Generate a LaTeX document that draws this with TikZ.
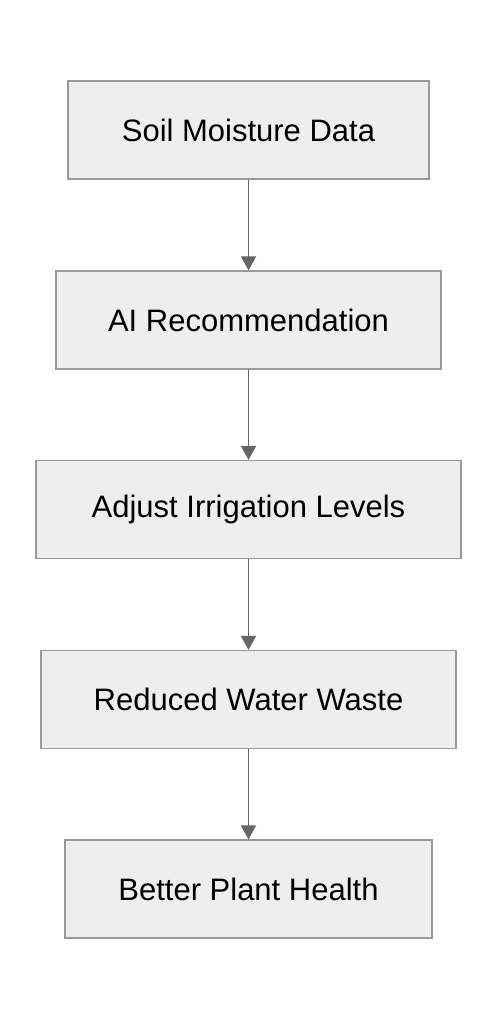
\documentclass[tikz,border=0pt]{standalone}
\usepackage{fontspec}
\setmainfont{Liberation Sans}
\usetikzlibrary{arrows.meta}
\definecolor{boxfill}{HTML}{EEEEEE}
\definecolor{boxline}{HTML}{999999}
\definecolor{arrowc}{HTML}{666666}
\begin{document}
\begin{tikzpicture}[x=1pt,y=-1pt,
  flowbox/.style={draw=boxline,fill=boxfill,line width=1.2pt,inner sep=0pt,minimum height=98pt,font=\fontsize{31}{37}\selectfont,text=black},
  flowarrow/.style={draw=arrowc,line width=1.8pt,-{Triangle[length=14pt,width=15pt]}}]
\useasboundingbox (0,0) rectangle (498,1020);
\node[flowbox,minimum width=361pt] (a) at (248.5,130) {Soil Moisture Data};
\node[flowbox,minimum width=385pt] (b) at (248.5,320) {AI Recommendation};
\node[flowbox,minimum width=425pt] (c) at (248.5,509.5) {Adjust Irrigation Levels};
\node[flowbox,minimum width=415pt] (d) at (248.5,699.5) {Reduced Water Waste};
\node[flowbox,minimum width=367pt] (e) at (248.5,889) {Better Plant Health};
\draw[flowarrow] (a) -- (b);
\draw[flowarrow] (b) -- (c);
\draw[flowarrow] (c) -- (d);
\draw[flowarrow] (d) -- (e);
\end{tikzpicture}
\end{document}
